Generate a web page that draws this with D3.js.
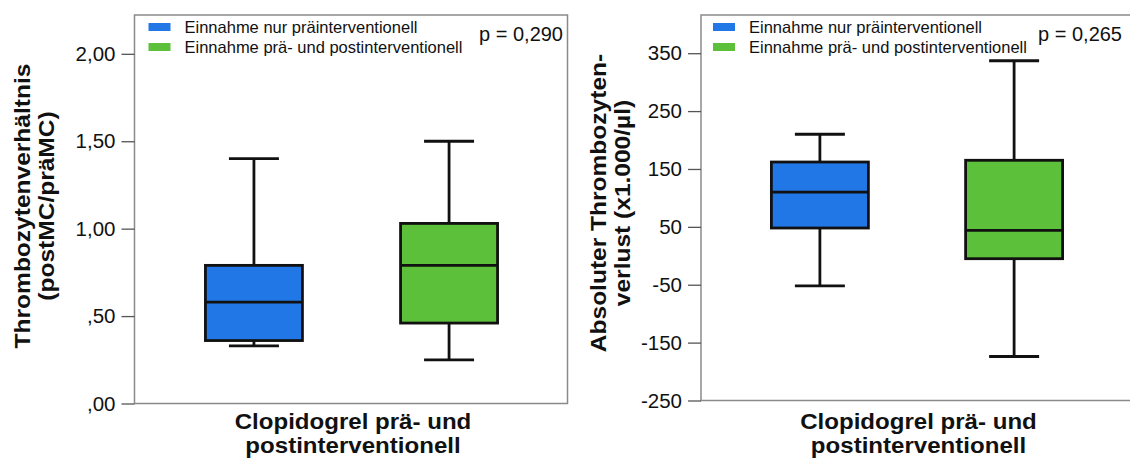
<!DOCTYPE html>
<html>
<head>
<meta charset="utf-8">
<script src="https://cdn.jsdelivr.net/npm/d3@7"></script>
<style>
html,body{margin:0;padding:0;background:#fff;}
svg{display:block;font-family:"Liberation Sans",Arial,sans-serif;}
</style>
</head>
<body>
<svg id="chart" width="1130" height="459"></svg>
<script>
// ---- data ----
const categories = ["Einnahme nur präinterventionell", "Einnahme prä- und postinterventionell"];
const groupColors = ["#2177e6", "#5dc03a"];
const xAxisTitle = ["Clopidogrel prä- und", "postinterventionell"];

// Panel 1: Thrombozytenverhältnis
const ratioLow    = [0.33, 0.25];
const ratioQ1     = [0.36, 0.46];
const ratioMedian = [0.58, 0.79];
const ratioQ3     = [0.79, 1.03];
const ratioHigh   = [1.40, 1.50];
const ratioTicks      = [0, 0.5, 1.0, 1.5, 2.0];
const ratioTickLabels = [",00", ",50", "1,00", "1,50", "2,00"];
const ratioTitle  = ["Thrombozytenverhältnis", "(postMC/präMC)"];
const ratioP      = "p = 0,290";

// Panel 2: Absoluter Thrombozytenverlust
const lossLow    = [-52, -174];
const lossQ1     = [48, -5];
const lossMedian = [110, 44];
const lossQ3     = [162, 165];
const lossHigh   = [210, 337];
const lossTicks      = [-250, -150, -50, 50, 150, 250, 350];
const lossTickLabels = ["-250", "-150", "-50", "50", "150", "250", "350"];
const lossTitle  = ["Absoluter Thrombozyten-", "verlust (x1.000/µl)"];
const lossP      = "p = 0,265";

// ---- drawing ----
const svg = d3.select("#chart");

function panel(cfg) {
  const g = svg.append("g");
  const x = d3.scalePoint().domain(categories).range([cfg.x0 + 1, cfg.x1]).padding(0.607);
  const y = d3.scaleLinear().domain(cfg.domain).range([cfg.yBottom, cfg.yTop]);

  // frame
  g.append("rect")
    .attr("x", cfg.x0).attr("y", cfg.yTop)
    .attr("width", cfg.x1 - cfg.x0).attr("height", cfg.yBottom - cfg.yTop)
    .attr("fill", "none").attr("stroke", "#8a8a8a").attr("stroke-width", 1.5);

  // y axis
  const ax = g.append("g")
    .attr("transform", `translate(${cfg.x0},0)`)
    .call(d3.axisLeft(y).tickValues(cfg.ticks)
      .tickFormat((d, i) => cfg.tickLabels[i]).tickSize(13).tickPadding(6));
  ax.select(".domain").remove();
  ax.selectAll(".tick line").attr("stroke", "#555").attr("stroke-width", 1.3);
  ax.selectAll(".tick text").attr("fill", "#111").style("font-size", "20.5px")
    .style("font-family", "Liberation Sans, Arial, sans-serif");

  const data = categories.map((c, i) => ({
    c, i, low: cfg.low[i], q1: cfg.q1[i], med: cfg.med[i], q3: cfg.q3[i], high: cfg.high[i]
  }));
  const bw = 97, cw = 50, sw = 2.8;
  const bx = g.selectAll("g.box").data(data).join("g").attr("class", "box");
  // whiskers
  bx.append("line")
    .attr("x1", d => x(d.c)).attr("x2", d => x(d.c))
    .attr("y1", d => y(d.high)).attr("y2", d => y(d.q3))
    .attr("stroke", "#111").attr("stroke-width", sw);
  bx.append("line")
    .attr("x1", d => x(d.c)).attr("x2", d => x(d.c))
    .attr("y1", d => y(d.q1)).attr("y2", d => y(d.low))
    .attr("stroke", "#111").attr("stroke-width", sw);
  // caps
  bx.append("line")
    .attr("x1", d => x(d.c) - cw / 2).attr("x2", d => x(d.c) + cw / 2)
    .attr("y1", d => y(d.high)).attr("y2", d => y(d.high))
    .attr("stroke", "#111").attr("stroke-width", sw);
  bx.append("line")
    .attr("x1", d => x(d.c) - cw / 2).attr("x2", d => x(d.c) + cw / 2)
    .attr("y1", d => y(d.low)).attr("y2", d => y(d.low))
    .attr("stroke", "#111").attr("stroke-width", sw);
  // box
  bx.append("rect")
    .attr("x", d => x(d.c) - bw / 2).attr("width", bw)
    .attr("y", d => y(d.q3)).attr("height", d => y(d.q1) - y(d.q3))
    .attr("fill", d => groupColors[d.i]).attr("stroke", "#111").attr("stroke-width", sw);
  // median
  bx.append("line")
    .attr("x1", d => x(d.c) - bw / 2).attr("x2", d => x(d.c) + bw / 2)
    .attr("y1", d => y(d.med)).attr("y2", d => y(d.med))
    .attr("stroke", "#111").attr("stroke-width", sw);

  // legend
  const lg = g.append("g");
  categories.forEach((c, i) => {
    lg.append("rect")
      .attr("x", cfg.x0 + cfg.legDx).attr("y", 23 + i * 20)
      .attr("width", 22).attr("height", 8)
      .attr("fill", groupColors[i]);
    lg.append("text")
      .attr("x", cfg.x0 + cfg.legDx + 36).attr("y", 33 + i * 20)
      .style("font-size", "16.5px").attr("fill", "#111")
      .text(c);
  });
  // p value
  g.append("text")
    .attr("x", cfg.pX).attr("y", 41)
    .attr("text-anchor", "end")
    .style("font-size", "20px").attr("fill", "#111")
    .text(cfg.p);

  // y title
  const cy = cfg.titleCy;
  cfg.title.forEach((t, i) => {
    g.append("text")
      .attr("transform", `translate(${cfg.titleX[i]},${cy}) rotate(-90) scale(1.1,1)`)
      .attr("text-anchor", "middle")
      .style("font-size", "22.3px").style("font-weight", "bold").attr("fill", "#111")
      .text(t);
  });

  // x title
  const cx = (cfg.x0 + Math.min(cfg.x1, 1130 + 2)) / 2 + 2;
  xAxisTitle.forEach((t, i) => {
    g.append("text")
      .attr("transform", `translate(${cx},${429 + i * 24.3}) scale(1.12,1)`)
      .attr("text-anchor", "middle")
      .style("font-size", "21.5px").style("font-weight", "bold").attr("fill", "#111")
      .text(t);
  });
}

panel({
  x0: 134.5, x1: 567.5, yTop: 15, yBottom: 403.5, domain: [0, 2.222],
  ticks: ratioTicks, tickLabels: ratioTickLabels,
  low: ratioLow, q1: ratioQ1, med: ratioMedian, q3: ratioQ3, high: ratioHigh,
  legDx: 14, pX: 563, p: ratioP,
  title: ratioTitle, titleX: [30, 54], titleCy: 206
});
panel({
  x0: 701, x1: 1132, yTop: 15, yBottom: 400.5, domain: [-250, 416],
  ticks: lossTicks, tickLabels: lossTickLabels,
  low: lossLow, q1: lossQ1, med: lossMedian, q3: lossQ3, high: lossHigh,
  legDx: 12, pX: 1122, p: lossP,
  title: lossTitle, titleX: [606, 630], titleCy: 203
});
</script>
</body>
</html>
